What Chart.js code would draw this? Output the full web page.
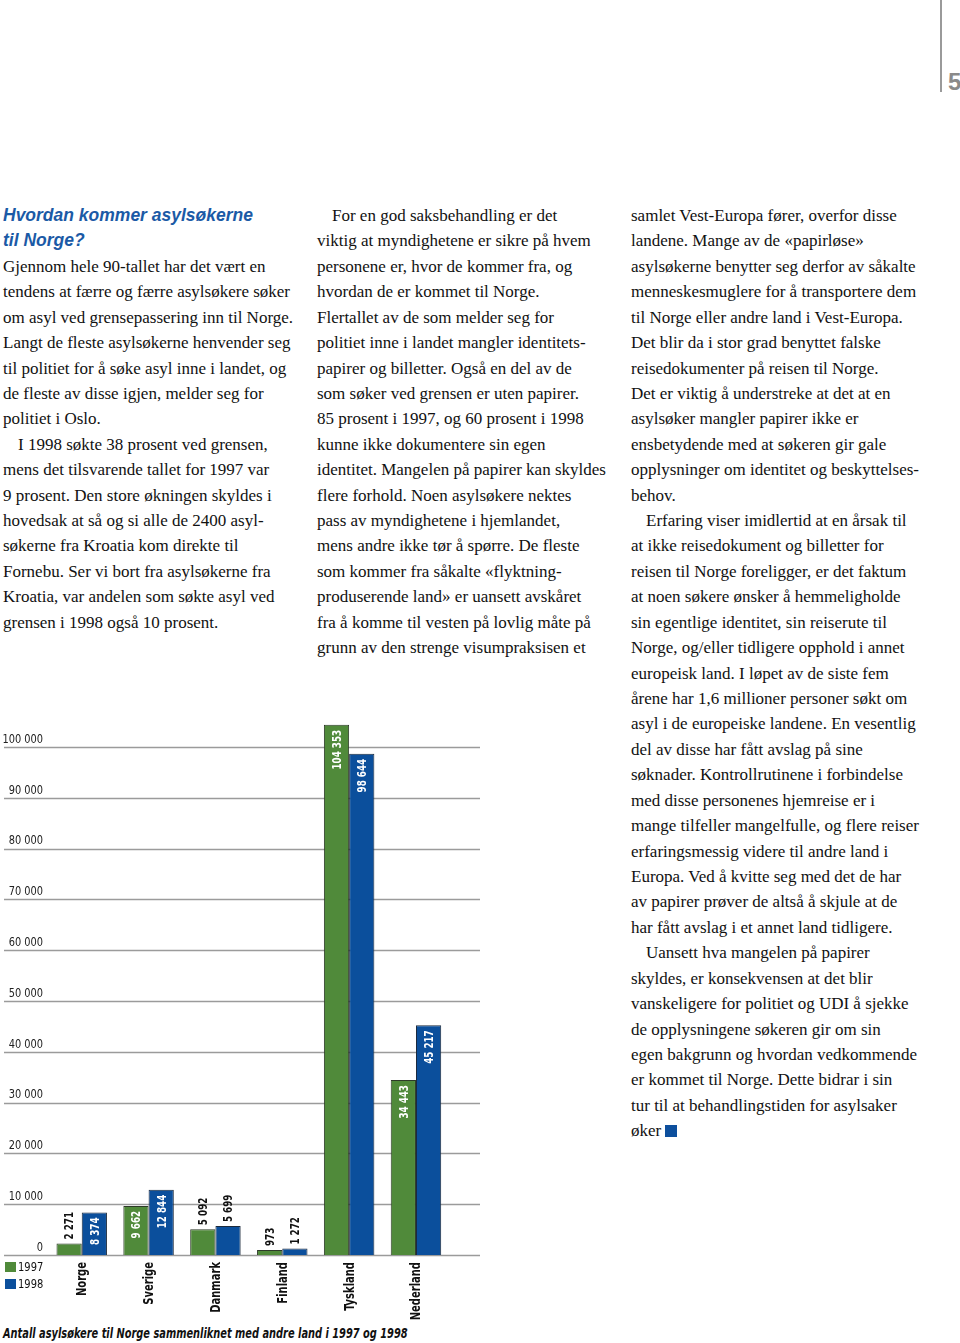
<!DOCTYPE html>
<html lang="no">
<head>
<meta charset="UTF-8">
<title>Asylsøkere 1997 og 1998</title>
<script src="https://cdn.jsdelivr.net/npm/chart.js"></script>
<style>
  html, body { margin: 0; padding: 0; background: #fff; }
  body { position: relative; width: 960px; height: 1343px; overflow: hidden; }
  .col { position: absolute; top: 203px; font-family: "Liberation Serif", "Times New Roman", serif;
         font-size: 17px; line-height: 25.42px; color: #111; white-space: pre; }
  .col div.ind { padding-left: 15px; }
  .head { font-family: "Liberation Sans", Arial, sans-serif; font-weight: bold; font-style: italic;
          font-size: 17.5px; color: #1b5aa6; }
  .narrow { font-family: "DejaVu Sans Condensed", "Liberation Sans Narrow", sans-serif; }
  #chartBox { position: absolute; left: 0; top: 690px; }
  .leg { position: absolute; left: 5px; font-size: 13px; color: #111; white-space: nowrap; }
  .leg span { display: inline-block; width: 11px; height: 10px; vertical-align: -1px; margin-right: 2px; }
  .leg b { font-weight: normal; display: inline-block; transform: scaleX(0.85); transform-origin: left center; }
  #caption { position: absolute; left: 3px; top: 1325px; font-size: 14px; font-weight: bold; font-style: italic;
             color: #111; white-space: nowrap; transform: scaleX(0.78); transform-origin: left center; }
  #sideLine { position: absolute; left: 940px; top: 0; width: 2px; height: 92px; background: #9a9a9a; }
  #pageNo { position: absolute; left: 948px; top: 68px; font-family: "Liberation Sans", Arial, sans-serif;
            font-weight: bold; font-size: 24px; color: #8a8a8a; }
  .endMark { display: inline-block; width: 12px; height: 12px; background: #0d4f9d; vertical-align: -1px; margin-left: 4px; }
</style>
</head>
<body>

<div id="sideLine"></div>
<div id="pageNo">5</div>

<div class="col" id="col1" style="left:3px"></div>
<div class="col" id="col2" style="left:317px"></div>
<div class="col" id="col3" style="left:631px"></div>

<div id="chartBox"><canvas id="myChart" width="490" height="635"></canvas></div>

<div class="leg narrow" style="top:1259px"><span style="background:#508a3a"></span><b>1997</b></div>
<div class="leg narrow" style="top:1276px"><span style="background:#0b4f9c"></span><b>1998</b></div>
<div id="caption" class="narrow">Antall asylsøkere til Norge sammenliknet med andre land i 1997 og 1998</div>

<script>
  // data
  const countries = ['Norge', 'Sverige', 'Danmark', 'Finland', 'Tyskland', 'Nederland'];
  const values1997 = [2271, 9662, 5092, 973, 104353, 34443];
  const values1998 = [8374, 12844, 5699, 1272, 98644, 45217];
  const yTickValues = [0, 10000, 20000, 30000, 40000, 50000, 60000, 70000, 80000, 90000, 100000];

  const green = '#508a3a';
  const blue = '#0b4f9c';
  const narrow = '"DejaVu Sans Condensed", "Liberation Sans Narrow", sans-serif';

  // text columns (* = indented first line, # = heading)
  const col1 = [
    '#Hvordan kommer asylsøkerne',
    '#til Norge?',
    'Gjennom hele 90-tallet har det vært en',
    'tendens at færre og færre asylsøkere søker',
    'om asyl ved grensepassering inn til Norge.',
    'Langt de fleste asylsøkerne henvender seg',
    'til politiet for å søke asyl inne i landet, og',
    'de fleste av disse igjen, melder seg for',
    'politiet i Oslo.',
    '*I 1998 søkte 38 prosent ved grensen,',
    'mens det tilsvarende tallet for 1997 var',
    '9 prosent. Den store økningen skyldes i',
    'hovedsak at så og si alle de 2400 asyl-',
    'søkerne fra Kroatia kom direkte til',
    'Fornebu. Ser vi bort fra asylsøkerne fra',
    'Kroatia, var andelen som søkte asyl ved',
    'grensen i 1998 også 10 prosent.'
  ];
  const col2 = [
    '*For en god saksbehandling er det',
    'viktig at myndighetene er sikre på hvem',
    'personene er, hvor de kommer fra, og',
    'hvordan de er kommet til Norge.',
    'Flertallet av de som melder seg for',
    'politiet inne i landet mangler identitets-',
    'papirer og billetter. Også en del av de',
    'som søker ved grensen er uten papirer.',
    '85 prosent i 1997, og 60 prosent i 1998',
    'kunne ikke dokumentere sin egen',
    'identitet. Mangelen på papirer kan skyldes',
    'flere forhold. Noen asylsøkere nektes',
    'pass av myndighetene i hjemlandet,',
    'mens andre ikke tør å spørre. De fleste',
    'som kommer fra såkalte «flyktning-',
    'produserende land» er uansett avskåret',
    'fra å komme til vesten på lovlig måte på',
    'grunn av den strenge visumpraksisen et'
  ];
  const col3 = [
    'samlet Vest-Europa fører, overfor disse',
    'landene. Mange av de «papirløse»',
    'asylsøkerne benytter seg derfor av såkalte',
    'menneskesmuglere for å transportere dem',
    'til Norge eller andre land i Vest-Europa.',
    'Det blir da i stor grad benyttet falske',
    'reisedokumenter på reisen til Norge.',
    'Det er viktig å understreke at det at en',
    'asylsøker mangler papirer ikke er',
    'ensbetydende med at søkeren gir gale',
    'opplysninger om identitet og beskyttelses-',
    'behov.',
    '*Erfaring viser imidlertid at en årsak til',
    'at ikke reisedokument og billetter for',
    'reisen til Norge foreligger, er det faktum',
    'at noen søkere ønsker å hemmeligholde',
    'sin egentlige identitet, sin reiserute til',
    'Norge, og/eller tidligere opphold i annet',
    'europeisk land. I løpet av de siste fem',
    'årene har 1,6 millioner personer søkt om',
    'asyl i de europeiske landene. En vesentlig',
    'del av disse har fått avslag på sine',
    'søknader. Kontrollrutinene i forbindelse',
    'med disse personenes hjemreise er i',
    'mange tilfeller mangelfulle, og flere reiser',
    'erfaringsmessig videre til andre land i',
    'Europa. Ved å kvitte seg med det de har',
    'av papirer prøver de altså å skjule at de',
    'har fått avslag i et annet land tidligere.',
    '*Uansett hva mangelen på papirer',
    'skyldes, er konsekvensen at det blir',
    'vanskeligere for politiet og UDI å sjekke',
    'de opplysningene søkeren gir om sin',
    'egen bakgrunn og hvordan vedkommende',
    'er kommet til Norge. Dette bidrar i sin',
    'tur til at behandlingstiden for asylsaker',
    'øker'
  ];

  function fillColumn(id, lines) {
    const el = document.getElementById(id);
    lines.forEach((line, i) => {
      const d = document.createElement('div');
      if (line[0] === '#') { d.className = 'head'; line = line.slice(1); }
      if (line[0] === '*') { d.className = 'ind'; line = line.slice(1); }
      d.textContent = line;
      if (id === 'col3' && i === lines.length - 1) {
        const m = document.createElement('span');
        m.className = 'endMark';
        d.appendChild(m);
      }
      el.appendChild(d);
    });
  }
  fillColumn('col1', col1);
  fillColumn('col2', col2);
  fillColumn('col3', col3);

  function fmt(v) {
    return String(Math.round(v)).replace(/\B(?=(\d{3})+(?!\d))/g, ' ');
  }

  // text squeezed along its own direction (no narrow font installed)
  function sqText(ctx, txt, x, y, align, squeeze, rotated) {
    ctx.save();
    ctx.translate(x, y);
    if (rotated) ctx.rotate(-Math.PI / 2);
    ctx.scale(squeeze, 1);
    ctx.textAlign = align;
    ctx.textBaseline = 'middle';
    ctx.fillText(txt, 0, 1);
    ctx.restore();
  }

  // grid lines run past the plot area on both sides, like in the print
  const gridPlugin = {
    id: 'longGrid',
    beforeDatasetsDraw(chart) {
      const ctx = chart.ctx;
      const ys = chart.scales.y;
      ctx.save();
      ctx.strokeStyle = '#9b9b9b';
      ctx.lineWidth = 1.3;
      ys.ticks.forEach(t => {
        const y = Math.round(ys.getPixelForValue(t.value)) + 0.5;
        ctx.beginPath();
        ctx.moveTo(4, y);
        ctx.lineTo(480, y);
        ctx.stroke();
      });
      // tick labels sit just above their line
      ctx.fillStyle = '#222';
      ctx.font = '13px ' + narrow;
      ys.ticks.forEach(t => {
        sqText(ctx, fmt(t.value), 43, ys.getPixelForValue(t.value) - 8.5, 'right', 0.84, false);
      });
      ctx.restore();
    }
  };

  // rotated value labels (inside tall bars, above short ones) and country names
  const labelPlugin = {
    id: 'rotatedLabels',
    afterDatasetsDraw(chart) {
      const ctx = chart.ctx;
      const sq = 0.75;
      ctx.save();
      ctx.font = 'bold 13px ' + narrow;
      chart.data.datasets.forEach((ds, i) => {
        chart.getDatasetMeta(i).data.forEach((bar, j) => {
          const txt = fmt(ds.data[j]);
          const w = ctx.measureText(txt).width * sq;
          const inside = (bar.base - bar.y) >= w + 12;
          ctx.fillStyle = inside ? '#fff' : '#111';
          sqText(ctx, txt, bar.x, inside ? bar.y + 5 : bar.y - 4, inside ? 'right' : 'left', sq, true);
        });
      });
      const xs = chart.scales.x;
      ctx.fillStyle = '#111';
      ctx.font = 'bold 13.5px ' + narrow;
      countries.forEach((c, i) => {
        sqText(ctx, c, xs.getPixelForTick(i), chart.chartArea.bottom + 7, 'right', 0.82, true);
      });
      ctx.restore();
    }
  };

  const ctx = document.getElementById('myChart').getContext('2d');
  const myChart = new Chart(ctx, {
    type: 'bar',
    data: {
      labels: countries,
      datasets: [
        { label: '1997', data: values1997, backgroundColor: green, borderColor: '#2d3a28', borderWidth: 1 },
        { label: '1998', data: values1998, backgroundColor: blue, borderColor: '#1c2a3c', borderWidth: 1 }
      ]
    },
    options: {
      responsive: false,
      animation: false,
      layout: { padding: { left: 0, right: 40.6, top: 26.5, bottom: 0 } },
      datasets: { bar: { categoryPercentage: 0.755, barPercentage: 1.0 } },
      plugins: { legend: { display: false }, tooltip: { enabled: false } },
      scales: {
        x: {
          grid: { display: false, drawTicks: false },
          border: { display: false },
          ticks: { display: false },
          afterFit(scale) { scale.height = 70; }
        },
        y: {
          min: 0,
          max: 106000,
          grid: { display: false, drawTicks: false },
          border: { display: false },
          afterBuildTicks(scale) { scale.ticks = yTickValues.map(v => ({ value: v })); },
          ticks: { display: false },
          afterFit(scale) { scale.width = 48.3; }
        }
      }
    },
    plugins: [gridPlugin, labelPlugin]
  });
</script>
</body>
</html>
